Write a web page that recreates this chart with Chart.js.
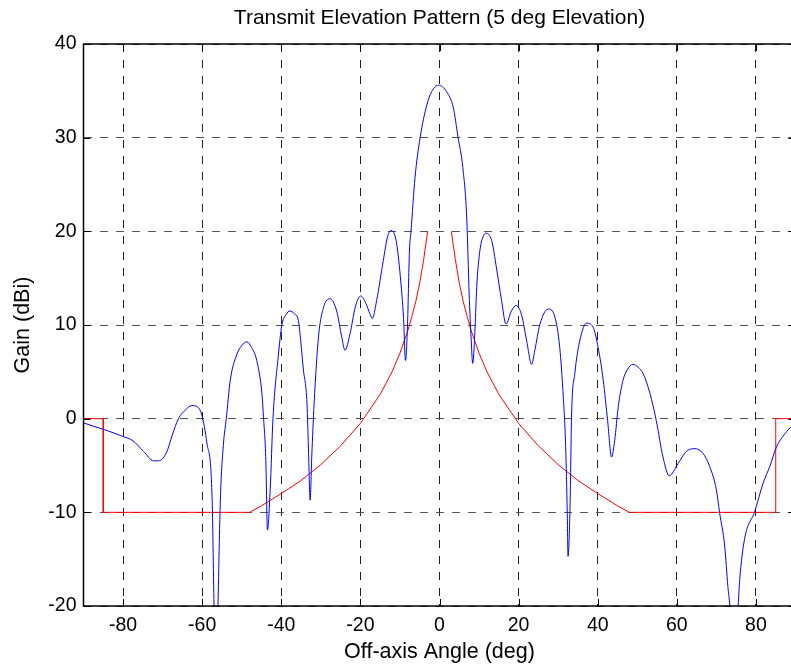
<!DOCTYPE html>
<html>
<head>
<meta charset="utf-8">
<title>Transmit Elevation Pattern</title>
<script src="https://cdn.jsdelivr.net/npm/chart.js@4"></script>
<style>
  html, body { margin: 0; padding: 0; background: #fff; overflow: hidden; }
  canvas { display: block; }
</style>
</head>
<body>
<canvas id="pattern" width="800" height="668"></canvas>
<script>
// Off-axis angle (deg) and measured gain (dBi) of the antenna pattern
const patternAngles = [
  -90, -87.5, -84.9, -82.5, -80.1, -77.7, -74.8, -72.3, -71.0, -68.9,
  -67.6, -66.0, -64.3, -62.6, -61.3, -60.1, -58.8, -57.5, -57.0, -56.5,
  -56.0, -55.4, -54.6, -53.9, -52.9, -51.2, -50.0, -48.7, -47.5, -46.2,
  -44.9, -44.5, -43.9, -43.5, -42.8, -42.1, -40.7, -39.9, -38.8, -37.8,
  -36.7, -35.7, -34.4, -33.5, -33.1, -32.7, -32.3, -31.7, -30.6, -29.3,
  -27.7, -26.0, -24.7, -23.9, -22.6, -21.3, -19.9, -18.6, -17.6, -17.0,
  -15.9, -14.2, -13.2, -12.3, -11.4, -10.8, -9.8, -9.1, -8.6, -8.1,
  -7.6, -7.2, -6.2, -4.9, -3.2, -2.0, -0.2, 1.8, 3.5, 4.7,
  5.9, 6.9, 7.5, 8.0, 8.4, 9.0, 9.4, 10.2, 11.0, 11.7,
  13.2, 14.4, 15.7, 16.8, 18.2, 19.4, 20.8, 22.0, 23.3, 24.1,
  25.4, 27.5, 29.2, 30.4, 31.3, 31.9, 32.3, 32.5, 33.0, 33.4,
  34.2, 35.5, 37.2, 38.8, 40.1, 41.4, 42.5, 43.5, 44.3, 45.2,
  46.4, 47.6, 48.9, 50.2, 51.5, 53.2, 54.8, 56.5, 58.1, 60.3,
  62.4, 64.5, 66.6, 68.3, 70.0, 70.8, 72.1, 72.9, 73.4, 74.5,
  75.5, 75.9, 77.1, 79.7, 81.8, 83.5, 85.2, 86.8, 88.8, 90
];
const patternGain = [
  -0.45, -0.8, -1.15, -1.5, -1.9, -2.3, -3.5, -4.5, -4.5, -3.5,
  -1.8, 0, 0.9, 1.4, 1.3, 0.4, -2.6, -8.3, -20, -30,
  -20, -8.7, -2.6, 0, 4.1, 6.9, 7.8, 8.2, 7.6, 6.2,
  2.7, 0.2, -4.5, -11.9, -7.6, 0, 6.9, 9.9, 11.1, 11.5,
  11.2, 10.5, 5.2, 1.6, -3.7, -8.7, -4.1, 1.6, 8.7, 11.9,
  12.8, 11.5, 8.7, 7.3, 9.1, 11.9, 13.1, 12.3, 11.2, 10.7,
  12.6, 16.9, 19.3, 20.1, 19.7, 18.6, 14.7, 10.8, 6.2, 9.8,
  17.9, 20.0, 25.7, 30.0, 33.5, 34.9, 35.6, 34.9, 33.2, 30.0,
  26.8, 21.3, 13.3, 8.5, 5.9, 9.8, 14.0, 17.9, 19.4, 19.8,
  19.0, 16.1, 12.6, 10.1, 11.5, 12.1, 11.0, 8.4, 5.8, 7.3,
  10.1, 11.7, 10.8, 7.6, 2.3, -3.0, -10.1, -14.7, -9.4, 0.5,
  4.8, 8.4, 10.2, 9.8, 7.6, 4.1, -0.2, -4.1, -2.3, 1.3,
  4.1, 5.3, 5.8, 5.5, 4.8, 2.7, -0.2, -4.1, -6.1, -4.8,
  -3.5, -3.2, -3.7, -5.1, -7.6, -10.0, -13.6, -17.9, -20, -28,
  -20, -17.2, -12.9, -9.9, -6.9, -5.1, -3.0, -1.9, -0.9, -0.5
];

// Sidelobe mask (the null at 0 splits it into two branches)
const maskAngles = [
  -90, -85, -85, -48, -45, -40, -35, -30, -25, -20, -15, -12, -10, -8, -7, -6, -5, -4, -3,
  0,
  3, 4, 5, 6, 7, 8, 10, 12, 15, 20, 25, 30, 35, 40, 45, 48, 85, 85, 90
];
const maskGain = [
  0, 0, -10, -10, -9.3, -8, -6.6, -4.9, -2.9, -0.5, 2.6, 5, 7, 9.4, 10.9, 12.5, 14.5, 17, 20,
  null,
  20, 17, 14.5, 12.5, 10.9, 9.4, 7, 5, 2.6, -0.5, -2.9, -4.9, -6.6, -8, -9.3, -10, -10, 0, 0
];

const xTicks = [-80, -60, -40, -20, 0, 20, 40, 60, 80];
const yTicks = [-20, -10, 0, 10, 20, 30, 40];

Chart.defaults.font.family = '"Liberation Sans", Arial, Helvetica, sans-serif';
Chart.defaults.color = '#000';

// inward tick marks and the solid box round the plot
const boxTicks = {
  id: 'boxTicks',
  afterDatasetsDraw(chart) {
    const { ctx, chartArea: a, scales: { x, y } } = chart;
    ctx.save();
    ctx.strokeStyle = '#000';
    ctx.lineWidth = 1;
    ctx.beginPath();
    xTicks.forEach(v => {
      const px = Math.round(x.getPixelForValue(v)) + 0.5;
      ctx.moveTo(px, a.bottom); ctx.lineTo(px, a.bottom - 7);
      ctx.moveTo(px, a.top); ctx.lineTo(px, a.top + 7);
    });
    yTicks.forEach(v => {
      const py = Math.round(y.getPixelForValue(v)) + 0.5;
      ctx.moveTo(a.left, py); ctx.lineTo(a.left + 7, py);
      ctx.moveTo(a.right, py); ctx.lineTo(a.right - 7, py);
    });
    ctx.stroke();
    ctx.lineWidth = 1.5;
    ctx.strokeRect(a.left, a.top, a.right - a.left, a.bottom - a.top);
    ctx.restore();
  }
};

new Chart(document.getElementById('pattern').getContext('2d'), {
  type: 'line',
  data: {
    datasets: [
      {
        label: 'Pattern',
        data: patternAngles.map((a, i) => ({ x: a, y: patternGain[i] })),
        borderColor: '#0000ff',
        borderWidth: 1,
        pointRadius: 0,
        cubicInterpolationMode: 'monotone'
      },
      {
        label: 'Mask',
        data: maskAngles.map((a, i) => ({ x: a, y: maskGain[i] })),
        borderColor: '#ff0000',
        borderWidth: 1,
        pointRadius: 0,
        tension: 0,
        spanGaps: false
      }
    ]
  },
  options: {
    responsive: false,
    animation: false,
    layout: { padding: { left: 0, right: 4.5, top: 0, bottom: 0 } },
    scales: {
      x: {
        type: 'linear',
        min: -90,
        max: 90,
        afterBuildTicks: s => { s.ticks = xTicks.map(v => ({ value: v })); },
        afterFit: s => { s.height = 62; },
        ticks: { font: { size: 19.5 }, padding: 7.5, maxRotation: 0 },
        grid: { color: '#222', lineWidth: 1, drawTicks: false },
        border: { display: false, dash: [8, 8] },
        title: {
          display: true,
          text: 'Off-axis Angle (deg)',
          font: { size: 21.5 },
          padding: { top: 0, bottom: 3.1 }
        }
      },
      y: {
        min: -20,
        max: 40,
        afterBuildTicks: s => { s.ticks = yTicks.map(v => ({ value: v })); },
        afterFit: s => { s.width = 83.5; },
        ticks: { font: { size: 19.5 }, padding: 7 },
        grid: { color: '#555', lineWidth: 1, drawTicks: false },
        border: { display: false, dash: [8, 8] },
        title: {
          display: true,
          text: 'Gain (dBi)',
          font: { size: 21.5 },
          padding: { top: 10.1, bottom: 0 }
        }
      }
    },
    plugins: {
      legend: { display: false },
      tooltip: { enabled: false },
      title: {
        display: true,
        text: 'Transmit Elevation Pattern (5 deg Elevation)',
        fullSize: false,
        font: { size: 21, weight: 'normal' },
        color: '#000',
        padding: { top: 5.4, bottom: 13.4 }
      }
    }
  },
  plugins: [boxTicks]
});
</script>
</body>
</html>
